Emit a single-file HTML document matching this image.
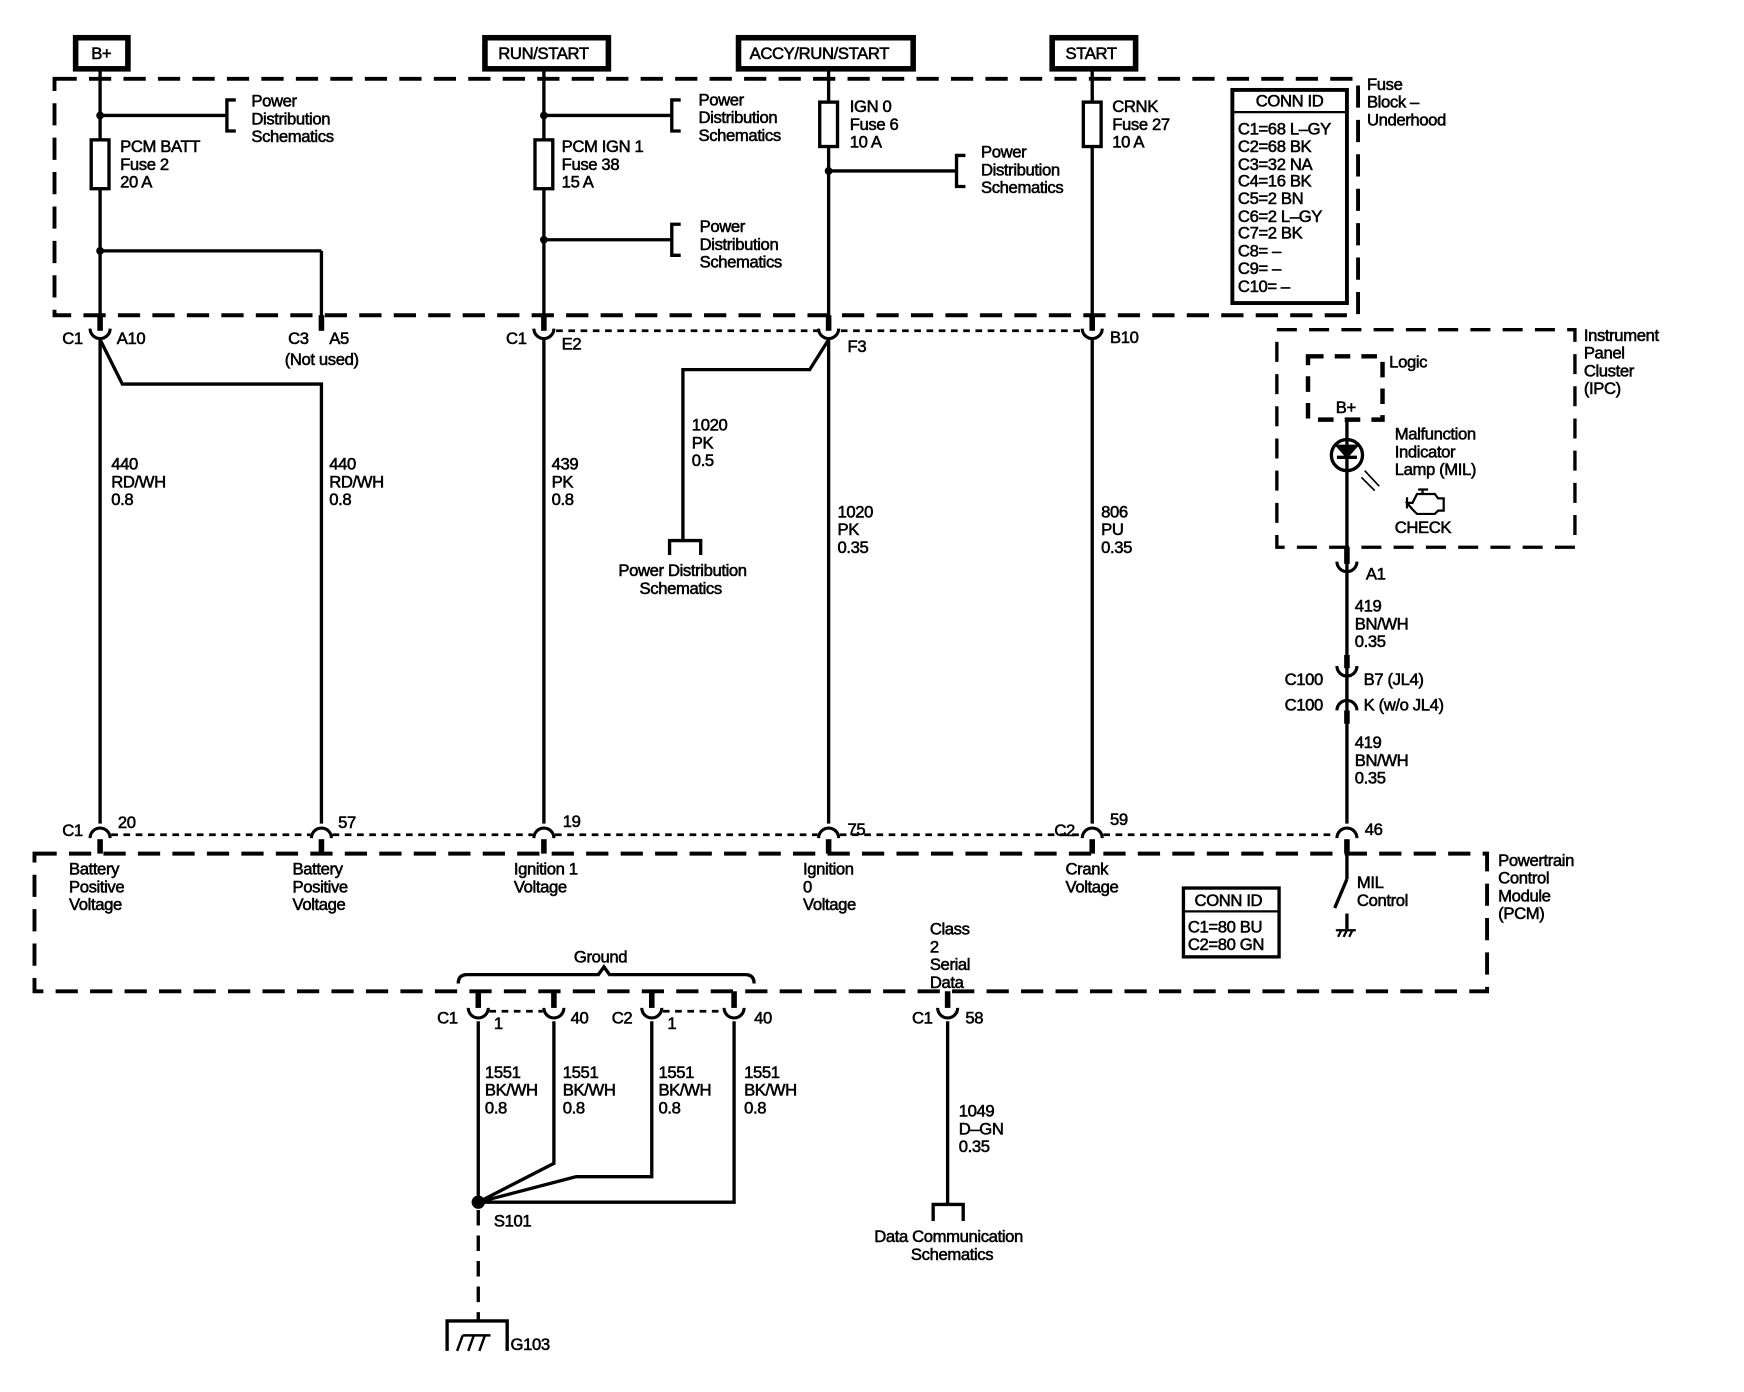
<!DOCTYPE html>
<html><head><meta charset="utf-8"><style>
html,body{margin:0;padding:0;background:#fff}
svg{display:block}
text{font-family:"Liberation Sans",sans-serif;font-size:15px;fill:#000;stroke:#000;stroke-width:0.5;letter-spacing:-0.35px}
</style></head><body>
<svg width="1744" height="1392" viewBox="0 0 1568 1254" preserveAspectRatio="none" xmlns="http://www.w3.org/2000/svg">
<rect width="1568" height="1254" fill="#fff"/>
<g fill="none" stroke="#000">
<rect x="68" y="34" width="47" height="28" stroke-width="5"/>
<rect x="436" y="34" width="111" height="28" stroke-width="5"/>
<rect x="664" y="34" width="157" height="28" stroke-width="5"/>
<rect x="946" y="34" width="75" height="28" stroke-width="5"/>
<rect x="49" y="71" width="1172" height="213" stroke-width="3.5" stroke-dasharray="20,11"/>
<rect x="1148" y="297" width="268" height="196" stroke-width="3" stroke-dasharray="18,11"/>
<rect x="1176" y="321" width="67" height="57" stroke-width="4" stroke-dasharray="14,10"/>
<rect x="31" y="769" width="1306" height="124" stroke-width="3.5" stroke-dasharray="20,11"/>
<rect x="1108" y="81" width="103" height="192" stroke-width="3.5"/>
<line x1="1108" y1="101" x2="1211" y2="101" stroke-width="2"/>
<rect x="1064" y="800" width="86" height="62" stroke-width="3"/>
<line x1="1064" y1="821" x2="1150" y2="821" stroke-width="2"/>

<g stroke-width="3">
<line x1="90" y1="62" x2="90" y2="296"/>
<line x1="90" y1="104" x2="204" y2="104"/>
<path d="M212 90 H204 V118 H212"/>
<rect x="82" y="126" width="16" height="44" fill="#fff"/>
<line x1="90" y1="226" x2="289" y2="226"/>
<line x1="289" y1="226" x2="289" y2="296"/>
<path d="M90 306 L110 346 H289 V742"/>
<line x1="90" y1="306" x2="90" y2="742"/>
<line x1="489" y1="62" x2="489" y2="296"/>
<line x1="489" y1="104" x2="604" y2="104"/>
<path d="M612 90 H604 V118 H612"/>
<rect x="481" y="126" width="16" height="44" fill="#fff"/>
<line x1="489" y1="216" x2="604" y2="216"/>
<path d="M612 202 H604 V230 H612"/>
<line x1="489" y1="306" x2="489" y2="742"/>
<line x1="745" y1="62" x2="745" y2="296"/>
<rect x="737" y="92" width="16" height="40" fill="#fff"/>
<line x1="745" y1="154" x2="860" y2="154"/>
<path d="M868 140 H860 V168 H868"/>
<line x1="745" y1="306" x2="745" y2="742"/>
<path d="M745 306 L728 333 H614 V487"/>
<path d="M602 500 V487 H630 V500"/>
<line x1="982" y1="62" x2="982" y2="296"/>
<rect x="974" y="92" width="16" height="40" fill="#fff"/>
<line x1="982" y1="306" x2="982" y2="742"/>
<line x1="1211" y1="378" x2="1211" y2="742"/>
<circle cx="1211" cy="410" r="14" fill="#fff"/>
<line x1="1211" y1="396" x2="1211" y2="424"/>
<line x1="1202" y1="412" x2="1220" y2="412"/>
<path d="M1203 402 H1219 L1211 411 Z" fill="#000"/>
<path d="M1227 424 L1240 438 M1224 430 L1236 442" stroke-width="1.5"/>
<path d="M1265 448 V458 M1265 453 H1270 L1274 445 H1290 L1293 449 H1298 V460 H1293 L1290 463 H1274 L1270 459 Z M1279 445 V441 M1275 441 H1284" stroke-width="2"/>
<line x1="1211" y1="770" x2="1211" y2="792"/>
<line x1="1211" y1="792" x2="1200" y2="818"/>
<line x1="1211" y1="823" x2="1211" y2="837"/>
<path d="M1201 838 H1219 M1203 844 L1206 838 M1208 844 L1211 838 M1213 844 L1216 838" stroke-width="2"/>
<path d="M412 886 Q412 878 420 878 H538 L543 871 L548 878 H670 Q678 878 678 886"/>
<line x1="430" y1="920" x2="430" y2="1083"/>
<path d="M498 920 V1048 L430 1083"/>
<path d="M586 920 V1060 H518 L430 1083"/>
<path d="M660 920 V1083 H430"/>
<path d="M430 1090 V1190" stroke-dasharray="14,9"/>
<path d="M402 1217 V1190 H456 V1217"/>
<path d="M411 1217 L416 1203 M421 1217 L426 1203 M431 1217 L436 1203 M416 1203 H441" stroke-width="2.2"/>
<line x1="852" y1="920" x2="852" y2="1085"/>
<path d="M839 1100 V1085 H866 V1100"/>
</g>
<circle cx="430" cy="1083" r="6" fill="#000" stroke="none"/>
<g fill="#000" stroke="none">
<circle cx="90" cy="104" r="3.5"/><circle cx="90" cy="226" r="3.5"/>
<circle cx="489" cy="104" r="3.5"/><circle cx="489" cy="216" r="3.5"/>
<circle cx="745" cy="154" r="3.5"/>
</g>
<g stroke-width="5">
<line x1="90" y1="284" x2="90" y2="298"/>
<line x1="289" y1="284" x2="289" y2="298"/>
<line x1="489" y1="284" x2="489" y2="298"/>
<line x1="745" y1="284" x2="745" y2="298"/>
<line x1="982" y1="284" x2="982" y2="298"/>
<line x1="1211" y1="493" x2="1211" y2="508"/>
<line x1="1211" y1="590" x2="1211" y2="602"/>
<line x1="1211" y1="640" x2="1211" y2="652"/>
<line x1="90" y1="756" x2="90" y2="769"/>
<line x1="289" y1="756" x2="289" y2="769"/>
<line x1="489" y1="756" x2="489" y2="769"/>
<line x1="745" y1="756" x2="745" y2="769"/>
<line x1="982" y1="756" x2="982" y2="769"/>
<line x1="1211" y1="756" x2="1211" y2="769"/>
<line x1="430" y1="893" x2="430" y2="908"/>
<line x1="498" y1="893" x2="498" y2="908"/>
<line x1="586" y1="893" x2="586" y2="908"/>
<line x1="660" y1="893" x2="660" y2="908"/>
<line x1="852" y1="893" x2="852" y2="908"/>
</g>
<g stroke-width="2.8">
<path d="M81 296 A9 9 0 0 0 99 296"/>
<path d="M480 296 A9 9 0 0 0 498 296"/>
<path d="M736 296 A9 9 0 0 0 754 296"/>
<path d="M973 296 A9 9 0 0 0 991 296"/>
<path d="M1202 506 A9 9 0 0 0 1220 506"/>
<path d="M1202 600 A9 9 0 0 0 1220 600"/>
<line x1="1211" y1="609" x2="1211" y2="630"/>
<path d="M1202 640 A9 9 0 0 1 1220 640"/>
<path d="M81 755 A9 9 0 0 1 99 755"/>
<path d="M280 755 A9 9 0 0 1 298 755"/>
<path d="M480 755 A9 9 0 0 1 498 755"/>
<path d="M736 755 A9 9 0 0 1 754 755"/>
<path d="M973 755 A9 9 0 0 1 991 755"/>
<path d="M1202 755 A9 9 0 0 1 1220 755"/>
<path d="M421 908 A9 9 0 0 0 439 908"/>
<path d="M489 908 A9 9 0 0 0 507 908"/>
<path d="M577 908 A9 9 0 0 0 595 908"/>
<path d="M651 908 A9 9 0 0 0 669 908"/>
<path d="M843 908 A9 9 0 0 0 861 908"/>
</g>
<g stroke-width="2.5" stroke-dasharray="6,5">
<line x1="500" y1="298" x2="735" y2="298"/>
<line x1="756" y1="298" x2="972" y2="298"/>
<line x1="100" y1="752" x2="279" y2="752"/>
<line x1="299" y1="752" x2="479" y2="752"/>
<line x1="499" y1="752" x2="735" y2="752"/>
<line x1="755" y1="752" x2="972" y2="752"/>
<line x1="992" y1="752" x2="1201" y2="752"/>
<line x1="440" y1="911" x2="488" y2="911"/>
<line x1="596" y1="911" x2="650" y2="911"/>
</g>
</g>

<text x="82" y="53">B+</text>
<text x="448" y="53">RUN/START</text>
<text x="674" y="53">ACCY/RUN/START</text>
<text x="958" y="53">START</text>

<text x="226" y="96">Power</text><text x="226" y="112">Distribution</text><text x="226" y="128">Schematics</text>
<text x="108" y="137">PCM  BATT</text><text x="108" y="153">Fuse 2</text><text x="108" y="169">20 A</text>
<text x="628" y="95">Power</text><text x="628" y="111">Distribution</text><text x="628" y="127">Schematics</text>
<text x="505" y="137">PCM IGN 1</text><text x="505" y="153">Fuse 38</text><text x="505" y="169">15 A</text>
<text x="629" y="209">Power</text><text x="629" y="225">Distribution</text><text x="629" y="241">Schematics</text>
<text x="764" y="101">IGN 0</text><text x="764" y="117">Fuse 6</text><text x="764" y="133">10 A</text>
<text x="882" y="142">Power</text><text x="882" y="158">Distribution</text><text x="882" y="174">Schematics</text>
<text x="1000" y="101">CRNK</text><text x="1000" y="117">Fuse 27</text><text x="1000" y="133">10 A</text>

<text x="1129" y="96">CONN ID</text>
<text x="1113" y="121">C1=68 L–GY</text><text x="1113" y="137">C2=68 BK</text><text x="1113" y="153">C3=32 NA</text>
<text x="1113" y="168">C4=16 BK</text><text x="1113" y="184">C5=2 BN</text><text x="1113" y="200">C6=2 L–GY</text>
<text x="1113" y="215">C7=2 BK</text><text x="1113" y="231">C8= –</text><text x="1113" y="247">C9= –</text><text x="1113" y="263">C10= –</text>
<text x="1229" y="81">Fuse</text><text x="1229" y="97">Block –</text><text x="1229" y="113">Underhood</text>

<text x="56" y="310">C1</text><text x="105" y="310">A10</text>
<text x="259" y="310">C3</text><text x="296" y="310">A5</text>
<text x="256" y="329">(Not used)</text>
<text x="455" y="310">C1</text><text x="505" y="315">E2</text>
<text x="762" y="317">F3</text>
<text x="998" y="309">B10</text>

<text x="100" y="423">440</text><text x="100" y="439">RD/WH</text><text x="100" y="455">0.8</text>
<text x="296" y="423">440</text><text x="296" y="439">RD/WH</text><text x="296" y="455">0.8</text>
<text x="496" y="423">439</text><text x="496" y="439">PK</text><text x="496" y="455">0.8</text>
<text x="622" y="388">1020</text><text x="622" y="404">PK</text><text x="622" y="420">0.5</text>
<text x="556" y="519">Power Distribution</text><text x="575" y="535">Schematics</text>
<text x="753" y="466">1020</text><text x="753" y="482">PK</text><text x="753" y="498">0.35</text>
<text x="990" y="466">806</text><text x="990" y="482">PU</text><text x="990" y="498">0.35</text>

<text x="1424" y="307">Instrument</text><text x="1424" y="323">Panel</text><text x="1424" y="339">Cluster</text><text x="1424" y="355">(IPC)</text>
<text x="1249" y="331">Logic</text>
<text x="1201" y="372">B+</text>
<text x="1254" y="396">Malfunction</text><text x="1254" y="412">Indicator</text><text x="1254" y="428">Lamp (MIL)</text>
<text x="1254" y="480">CHECK</text>
<text x="1228" y="522">A1</text>
<text x="1218" y="551">419</text><text x="1218" y="567">BN/WH</text><text x="1218" y="583">0.35</text>
<text x="1155" y="617">C100</text><text x="1226" y="617">B7 (JL4)</text>
<text x="1155" y="640">C100</text><text x="1226" y="640">K (w/o JL4)</text>
<text x="1218" y="674">419</text><text x="1218" y="690">BN/WH</text><text x="1218" y="706">0.35</text>

<text x="56" y="753">C1</text><text x="106" y="746">20</text>
<text x="304" y="746">57</text>
<text x="506" y="745">19</text>
<text x="762" y="752">75</text>
<text x="948" y="753">C2</text><text x="998" y="743">59</text>
<text x="1227" y="752">46</text>

<text x="62" y="788">Battery</text><text x="62" y="804">Positive</text><text x="62" y="820">Voltage</text>
<text x="263" y="788">Battery</text><text x="263" y="804">Positive</text><text x="263" y="820">Voltage</text>
<text x="462" y="788">Ignition 1</text><text x="462" y="804">Voltage</text>
<text x="722" y="788">Ignition</text><text x="722" y="804">0</text><text x="722" y="820">Voltage</text>
<text x="958" y="788">Crank</text><text x="958" y="804">Voltage</text>
<text x="1220" y="800">MIL</text><text x="1220" y="816">Control</text>
<text x="1074" y="816">CONN ID</text>
<text x="1068" y="840">C1=80 BU</text><text x="1068" y="856">C2=80 GN</text>
<text x="1347" y="780">Powertrain</text><text x="1347" y="796">Control</text><text x="1347" y="812">Module</text><text x="1347" y="828">(PCM)</text>
<text x="836" y="842">Class</text><text x="836" y="858">2</text><text x="836" y="874">Serial</text><text x="836" y="890">Data</text>
<text x="516" y="867">Ground</text>

<text x="393" y="922">C1</text><text x="444" y="927">1</text><text x="513" y="922">40</text>
<text x="550" y="922">C2</text><text x="600" y="927">1</text><text x="678" y="922">40</text>
<text x="820" y="922">C1</text><text x="868" y="922">58</text>
<text x="436" y="971">1551</text><text x="436" y="987">BK/WH</text><text x="436" y="1003">0.8</text>
<text x="506" y="971">1551</text><text x="506" y="987">BK/WH</text><text x="506" y="1003">0.8</text>
<text x="592" y="971">1551</text><text x="592" y="987">BK/WH</text><text x="592" y="1003">0.8</text>
<text x="669" y="971">1551</text><text x="669" y="987">BK/WH</text><text x="669" y="1003">0.8</text>
<text x="862" y="1006">1049</text><text x="862" y="1022">D–GN</text><text x="862" y="1038">0.35</text>
<text x="444" y="1105">S101</text>
<text x="459" y="1216">G103</text>
<text x="786" y="1119">Data Communication</text><text x="819" y="1135">Schematics</text>
</svg>
</body></html>
